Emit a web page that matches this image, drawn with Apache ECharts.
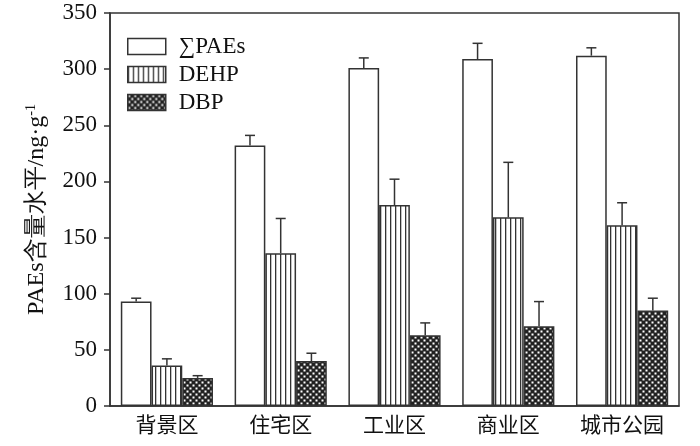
<!DOCTYPE html>
<html><head><meta charset="utf-8">
<script src="https://cdn.jsdelivr.net/npm/echarts@6/dist/echarts.min.js"></script>
<style>html,body{margin:0;padding:0;background:#fff}#c{width:700px;height:446px}</style>
</head><body><div id="c"></div>
<script>
const categories = ['背景区','住宅区','工业区','商业区','城市公园'];
const seriesNames = ['∑PAEs','DEHP','DBP'];
const paes = [93, 232, 301, 309, 312];
const paesErr = [3, 9, 9, 14, 7];
const dehp = [36, 136, 179, 168, 161];
const dehpErr = [6, 31, 23, 49, 20];
const dbp = [25, 40, 63, 71, 85];
const dbpErr = [2, 7, 11, 22, 11];
const yTicks = [0, 50, 100, 150, 200, 250, 300, 350];

function stripePattern(){
  const c = document.createElement('canvas'); c.width = 5; c.height = 4;
  const g = c.getContext('2d');
  g.fillStyle = '#fff'; g.fillRect(0,0,5,4);
  g.fillStyle = '#333'; g.fillRect(0,0,1.3,4);
  return c;
}
function dotPattern(){
  const c = document.createElement('canvas'); c.width = 6; c.height = 6;
  const g = c.getContext('2d');
  g.fillStyle = '#222'; g.fillRect(0,0,6,6);
  g.fillStyle = '#fff';
  g.fillRect(0.5,0.5,2,2); g.fillRect(3.5,3.5,2,2);
  return c;
}
const fills = ['#ffffff', {image: stripePattern(), repeat: 'repeat'}, {image: dotPattern(), repeat: 'repeat'}];
const values = [paes, dehp, dbp];
const errs = [paesErr, dehpErr, dbpErr];

const errData = [];
for (let s = 0; s < 3; s++) {
  for (let i = 0; i < categories.length; i++) {
    errData.push([i, s, values[s][i], values[s][i] + errs[s][i]]);
  }
}
const serif = '"Times New Roman","Liberation Serif","DejaVu Serif",serif';
const cjk = '"Noto Sans CJK SC","Liberation Serif",serif';
const gapPct = 0.19;

const chart = echarts.init(document.getElementById('c'));
chart.setOption({
  animation: false,
  grid: {left: 110, right: 21, top: 13, bottom: 40, show: true, borderColor: '#333', borderWidth: 1.5},
  legend: {
    orient: 'vertical', left: 122, top: 30, itemWidth: 38, itemHeight: 16, itemGap: 5,
    icon: 'rect',
    data: seriesNames,
    textStyle: {fontFamily: serif, fontSize: 23, lineHeight: 22, color: '#111', padding: [0,0,0,8]},
    itemStyle: {borderColor: '#333', borderWidth: 1.5}
  },
  xAxis: {
    type: 'category', data: categories,
    axisLine: {lineStyle: {color: '#333', width: 1.5}},
    axisTick: {show: false},
    axisLabel: {fontFamily: cjk, fontSize: 21, color: '#111', margin: 8}
  },
  yAxis: {
    type: 'value', min: yTicks[0], max: yTicks[yTicks.length-1], interval: 50,
    name: 'PAEs含量水平/ng·g{sup|-1}', nameLocation: 'middle', nameGap: 60, nameRotate: 90,
    nameTextStyle: {fontFamily: serif, fontSize: 24, color: '#111',
      rich: {sup: {fontFamily: serif, fontSize: 14, verticalAlign: 'top', padding: [0,0,12,0], color: '#111'}}},
    axisLine: {show: true, lineStyle: {color: '#333', width: 1.5}},
    axisTick: {show: true, inside: false, length: 6, lineStyle: {color: '#333', width: 1.5}},
    axisLabel: {fontFamily: serif, fontSize: 23, color: '#111', margin: 13},
    splitLine: {show: false}
  },
  series: seriesNames.map((n, s) => ({
    name: n, type: 'bar', data: values[s], barGap: '0%', barCategoryGap: (gapPct*100) + '%',
    itemStyle: {color: fills[s], borderColor: '#333', borderWidth: 1.5}
  })).concat([{
    type: 'custom', data: errData, silent: true, z: 5,
    encode: {x: 0, y: [2, 3]},
    renderItem: function(params, api) {
      const ci = api.value(0), s = api.value(1);
      const band = api.size([1, 0])[0];
      const bw = band * (1 - gapPct) / 3;
      const base = api.coord([ci, api.value(2)]);
      const top = api.coord([ci, api.value(3)]);
      const x = base[0] + (s - 1) * bw;
      const cap = 5;
      return {type: 'group', children: [
        {type: 'line', shape: {x1: x, y1: base[1], x2: x, y2: top[1]}, style: {stroke: '#333', lineWidth: 1.5}},
        {type: 'line', shape: {x1: x - cap, y1: top[1], x2: x + cap, y2: top[1]}, style: {stroke: '#333', lineWidth: 1.5}}
      ]};
    }
  }])
});
</script></body></html>
